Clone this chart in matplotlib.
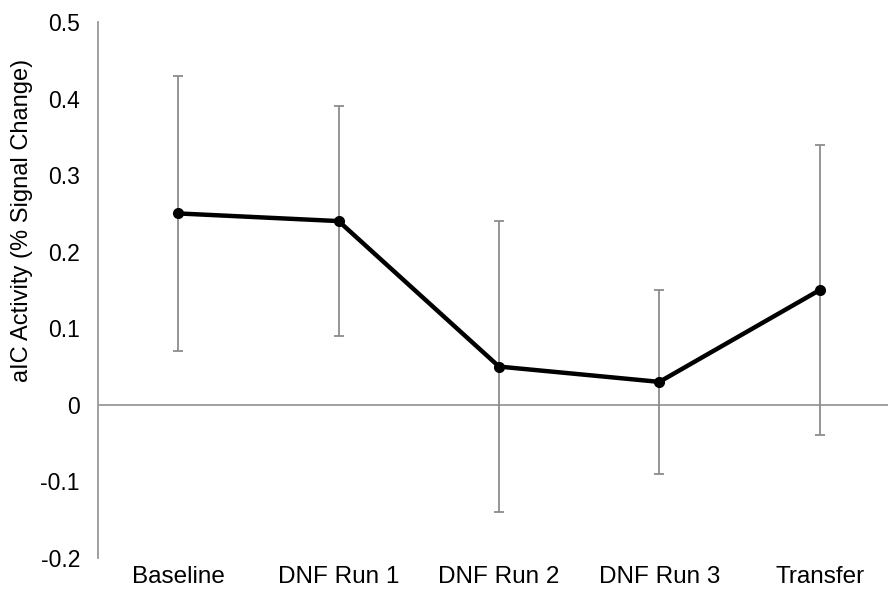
import numpy as np
import matplotlib.pyplot as plt

plt.rcParams['font.family'] = ['Liberation Sans', 'DejaVu Sans']

# data
conditions = ['Baseline', 'DNF Run 1', 'DNF Run 2', 'DNF Run 3', 'Transfer']
activity = [0.25, 0.24, 0.05, 0.03, 0.15]
err_low = [0.07, 0.09, -0.14, -0.09, -0.04]
err_high = [0.43, 0.39, 0.24, 0.15, 0.34]

x = np.arange(len(conditions))
mean = np.array(activity)
yerr = [mean - np.array(err_low), np.array(err_high) - mean]

fig = plt.figure(figsize=(8.88, 6), dpi=100)
ax = fig.add_axes([98 / 888, 42 / 600, (900 - 98) / 888, 536 / 600])

ax.axhline(0, color='#999999', lw=1.3, zorder=1)
ax.errorbar(x, mean, yerr=yerr, fmt='none', ecolor='#8c8c8c', elinewidth=1.3,
            capsize=3.5, capthick=1.3, zorder=2)
ax.plot(x, mean, color='black', lw=3.2, marker='o', markersize=7, zorder=3)

ax.set_xlim(-0.5, 4.5)
ax.set_ylim(-0.2, 0.5)
ax.set_yticks(np.arange(-0.2, 0.51, 0.1))
ax.set_yticklabels(['-0.2', '-0.1', '0', '0.1', '0.2', '0.3', '0.4', '0.5'])
ax.set_xticks(x)
ax.set_xticklabels(conditions)
ax.tick_params(axis='y', length=0, pad=13, labelsize=16.5)
ax.tick_params(axis='x', length=0, pad=6, labelsize=17.5)

for s in ['top', 'right', 'bottom']:
    ax.spines[s].set_visible(False)
ax.spines['left'].set_color('#999999')
ax.spines['left'].set_linewidth(1.3)

ax.set_ylabel('aIC Activity (% Signal Change)', fontsize=17, labelpad=5.5)
ax.yaxis.label.set_y(0.63)  # label sits above the axis centre in the original

fig.savefig('out.png', dpi=100)
